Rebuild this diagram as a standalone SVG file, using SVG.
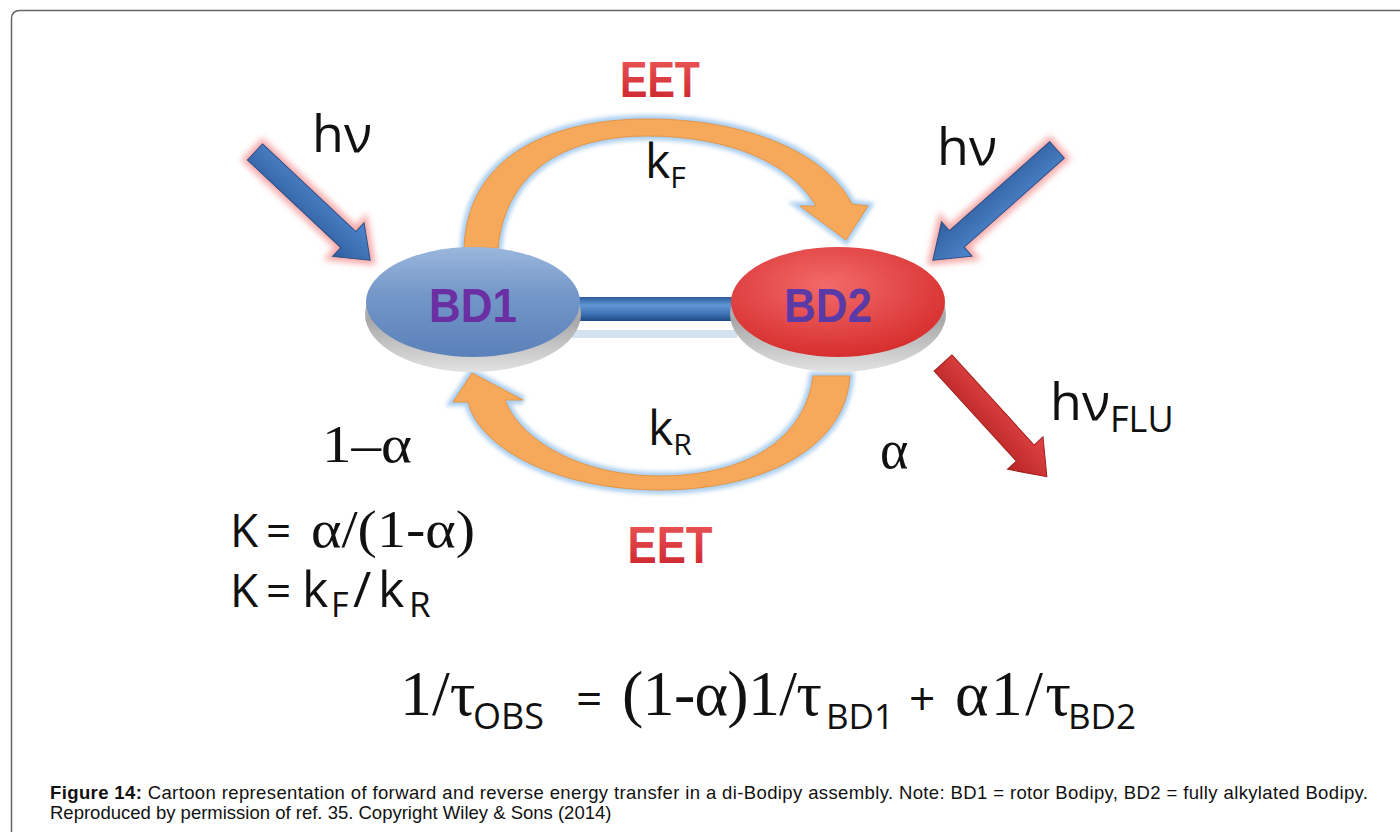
<svg xmlns="http://www.w3.org/2000/svg" width="1400" height="832" viewBox="0 0 1400 832">
<defs>
  <style>
    .sym { font-family: "Open Sans", "DejaVu Sans", sans-serif; fill: #111; }
    .serif { font-family: "Liberation Serif", "Times New Roman", serif; fill: #111; }
    .eet { font-family: "Liberation Sans", Arial, sans-serif; font-weight: bold; fill: url(#gEET); }
    .bd { font-family: "Liberation Sans", Arial, sans-serif; font-weight: bold; }
    .cap { font-family: "Liberation Sans", Arial, sans-serif; font-size: 18.5px; fill: #111; }
    .orange { fill: #f6a95a; stroke: #e59546; stroke-width: 1; }
    .oglow { fill: none; stroke: #a9cdf0; stroke-width: 8; filter: url(#blur2); }
    .pglow { fill: #f6a7a7; stroke: #f6a7a7; stroke-width: 9; filter: url(#blur3); }
    .barrow { fill: url(#gBlueArrow); stroke: #2b4f86; stroke-width: 1; }
    .rarrow { fill: url(#gRedArrow); stroke: #a31d1d; stroke-width: 1; }
  </style>
  <linearGradient id="gEET" x1="0" y1="0" x2="0" y2="1">
    <stop offset="0" stop-color="#ee5a5a"/>
    <stop offset="1" stop-color="#c8202a"/>
  </linearGradient>
  <linearGradient id="gBlueFace" x1="0" y1="0" x2="0" y2="1">
    <stop offset="0" stop-color="#9ab7dc"/>
    <stop offset="0.45" stop-color="#7396c8"/>
    <stop offset="1" stop-color="#5b81ba"/>
  </linearGradient>
  <radialGradient id="gRedFace" cx="0.45" cy="0.35" r="0.7">
    <stop offset="0" stop-color="#f36a6a"/>
    <stop offset="1" stop-color="#d52a2a"/>
  </radialGradient>
  <linearGradient id="gRim" x1="0" y1="0" x2="0" y2="1">
    <stop offset="0" stop-color="#f0f0f0"/>
    <stop offset="0.55" stop-color="#a8a8a8"/>
    <stop offset="1" stop-color="#e2e2e2"/>
  </linearGradient>
  <linearGradient id="gBar" x1="0" y1="0" x2="0" y2="1">
    <stop offset="0" stop-color="#2d5c9b"/>
    <stop offset="0.35" stop-color="#6096d4"/>
    <stop offset="0.7" stop-color="#3f73b6"/>
    <stop offset="1" stop-color="#1e4983"/>
  </linearGradient>
  <linearGradient id="gBlueArrow" x1="0" y1="0" x2="0" y2="1">
    <stop offset="0" stop-color="#4f86cc"/>
    <stop offset="1" stop-color="#2f5f9f"/>
  </linearGradient>
  <linearGradient id="gRedArrow" x1="0" y1="0" x2="0" y2="1">
    <stop offset="0" stop-color="#e24545"/>
    <stop offset="1" stop-color="#b82424"/>
  </linearGradient>
  <filter id="blur2" x="-20%" y="-20%" width="140%" height="140%"><feGaussianBlur stdDeviation="2"/></filter>
  <filter id="blur3" x="-30%" y="-30%" width="160%" height="160%"><feGaussianBlur stdDeviation="3"/></filter>
</defs>
<rect width="1400" height="832" fill="#fff"/>
<path d="M11.5 832 V19 Q11.5 10.5 20 10.5 H1400" fill="none" stroke="#666" stroke-width="1.5"/>

<g id="connectors">
  <!-- forward EET arc (kF) -->
  <path class="oglow" d="M464 248 C468 150 560 119 648 119 C742 119 824 150 852 204 L868 206 L846 240 L800 206 L816 206 C792 164 730 136 648 136 C572 136 506 166 498 248 Z"/>
  <path class="orange" d="M464 248 C468 150 560 119 648 119 C742 119 824 150 852 204 L868 206 L846 240 L800 206 L816 206 C792 164 730 136 648 136 C572 136 506 166 498 248 Z"/>
  <!-- reverse EET arc (kR) -->
  <path class="oglow" d="M850 376 C845 450 760 490 660 490 C560 490 480 450 468 402 L453 402 L472 373 L523 400 L505 400 C520 440 580 476 660 476 C745 476 805 440 813 376 Z"/>
  <path class="orange" d="M850 376 C845 450 760 490 660 490 C560 490 480 450 468 402 L453 402 L472 373 L523 400 L505 400 C520 440 580 476 660 476 C745 476 805 440 813 376 Z"/>
  <!-- linker bar -->
  <rect x="572" y="297" width="165" height="24" fill="url(#gBar)"/>
  <rect x="572" y="330" width="165" height="8" fill="#d5e2f0"/>
  <!-- incoming hv arrows -->
  <g transform="translate(255,152) rotate(43.2)">
    <path class="pglow" d="M0,-11 H128 V-23 L158,0 L128,23 V11 H0 Z"/>
    <path class="barrow" d="M0,-11 H128 V-23 L158,0 L128,23 V11 H0 Z"/>
  </g>
  <g transform="translate(1057,150) rotate(138.4)">
    <path class="pglow" d="M0,-11 H134 V-23 L166,0 L134,23 V11 H0 Z"/>
    <path class="barrow" d="M0,-11 H134 V-23 L166,0 L134,23 V11 H0 Z"/>
  </g>
  <!-- fluorescence arrow -->
  <g transform="translate(943,363) rotate(47.6)">
    <path class="rarrow" d="M0,-12 H122 V-24 L154,0 L122,24 V12 H0 Z"/>
  </g>
</g>

<g id="BD1">
  <ellipse cx="473" cy="314" rx="108" ry="58" fill="url(#gRim)"/>
  <ellipse cx="473" cy="302" rx="107" ry="55" fill="url(#gBlueFace)"/>
  <text class="bd" x="473" y="322" font-size="48" text-anchor="middle" fill="#6a2fa2" textLength="88" lengthAdjust="spacingAndGlyphs">BD1</text>
</g>

<g id="BD2">
  <ellipse cx="838" cy="314" rx="108" ry="58" fill="url(#gRim)"/>
  <ellipse cx="838" cy="302" rx="107" ry="55" fill="url(#gRedFace)"/>
  <text class="bd" x="828" y="322" font-size="48" text-anchor="middle" fill="#5a3aa6" textLength="88" lengthAdjust="spacingAndGlyphs">BD2</text>
</g>

<g id="labels">
  <text class="eet" x="660" y="97" font-size="50" text-anchor="middle" textLength="80" lengthAdjust="spacingAndGlyphs">EET</text>
  <text class="eet" x="670" y="563" font-size="52" text-anchor="middle" textLength="85" lengthAdjust="spacingAndGlyphs">EET</text>
  <text class="sym" x="312" y="152" font-size="52">hν</text>
  <text class="sym" x="937" y="165" font-size="52">hν</text>
  <text class="sym" x="1050" y="420" font-size="52">hν<tspan font-size="36" dy="12">FLU</tspan></text>
  <text class="sym" x="645" y="178" font-size="48">k<tspan font-size="30" dy="10">F</tspan></text>
  <text class="sym" x="648" y="445" font-size="48">k<tspan font-size="30" dy="10">R</tspan></text>
  <text class="serif" x="322" y="462" font-size="52" textLength="90" lengthAdjust="spacingAndGlyphs">1–α</text>
  <text class="serif" x="880" y="468" font-size="54">α</text>
  <text y="547"><tspan class="sym" x="230" font-size="46">K</tspan><tspan class="sym" x="266" font-size="44">=</tspan><tspan class="serif" x="311" font-size="52" textLength="164" lengthAdjust="spacingAndGlyphs">α/(1-α)</tspan></text>
  <text y="607"><tspan class="sym" x="230" font-size="46">K</tspan><tspan class="sym" x="266" font-size="44">=</tspan><tspan class="sym" x="302" font-size="50">k</tspan><tspan class="sym" x="331" y="617" font-size="34">F</tspan><tspan class="sym" x="353" y="607" font-size="50">/</tspan><tspan class="sym" x="378" font-size="50">k</tspan><tspan class="sym" x="409" y="617" font-size="35">R</tspan></text>
  <text y="715">
    <tspan class="serif" x="400" font-size="64">1/τ</tspan><tspan class="sym" x="473" y="729" font-size="36">OBS</tspan><tspan class="sym" x="576" y="715" font-size="46">=</tspan><tspan class="serif" x="622" font-size="64" textLength="200" lengthAdjust="spacing">(1-α)1/τ</tspan><tspan class="sym" x="826" y="729" font-size="35">BD1</tspan><tspan class="sym" x="909" y="715" font-size="46">+</tspan><tspan class="serif" x="955" font-size="64" textLength="116" lengthAdjust="spacing">α1/τ</tspan><tspan class="sym" x="1068" y="729" font-size="35">BD2</tspan>
  </text>
</g>

<g id="caption">
  <text class="cap" x="50" y="799" textLength="1318" lengthAdjust="spacing">
    <tspan font-weight="bold">Figure 14:</tspan> Cartoon representation of forward and reverse energy transfer in a di-Bodipy assembly.  Note: BD1 = rotor Bodipy, BD2 = fully alkylated Bodipy.</text>
  <text class="cap" x="50" y="819">Reproduced by permission of ref. 35. Copyright Wiley &amp; Sons (2014)</text>
</g>
</svg>
